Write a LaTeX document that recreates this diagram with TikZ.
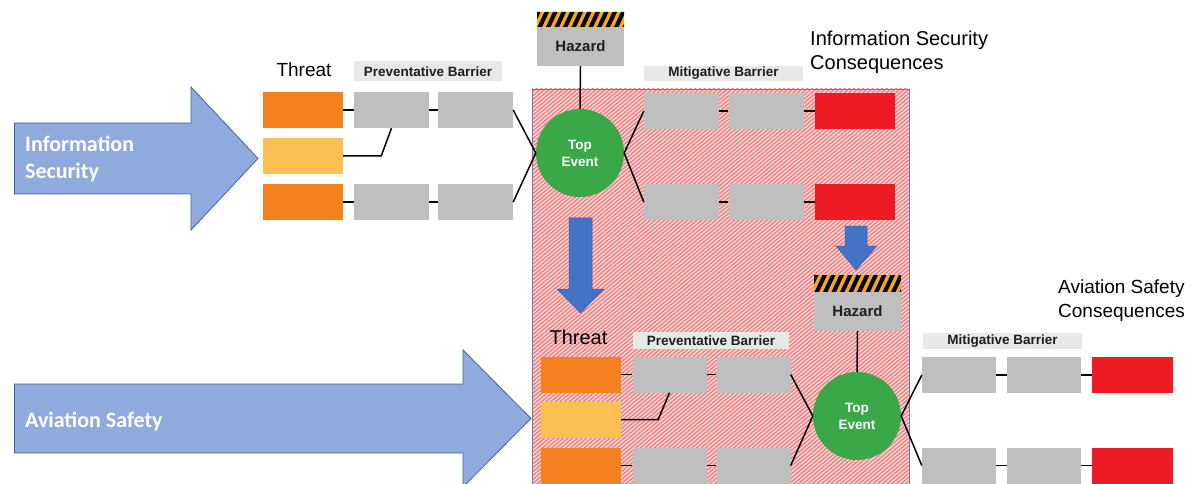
\documentclass[tikz,border=0pt]{standalone}
\usepackage{fontspec}
\setmainfont{Liberation Sans}
\newfontfamily\calfont{Carlito}
\usetikzlibrary{patterns.meta}

\definecolor{orangeC}{RGB}{244,129,32}
\definecolor{yellowC}{RGB}{251,192,84}
\definecolor{grayC}{RGB}{191,191,191}
\definecolor{redC}{RGB}{237,28,36}
\definecolor{greenC}{RGB}{58,168,72}
\definecolor{labelC}{RGB}{232,232,232}
\definecolor{textC}{RGB}{30,30,30}
\definecolor{hzOrange}{RGB}{245,166,35}
\definecolor{arrowFill}{RGB}{143,170,220}
\definecolor{arrowLine}{RGB}{70,100,150}
\definecolor{downBlue}{RGB}{68,114,196}
\definecolor{zoneFill}{RGB}{248,212,212}
\definecolor{zoneHatch}{RGB}{232,128,128}
\definecolor{zoneLine}{RGB}{110,120,180}

\begin{document}
\begin{tikzpicture}[x=1pt,y=-1pt,
  cell/.style={rectangle, inner sep=0pt, minimum height=36pt},
  threat/.style={cell, fill=orangeC, minimum width=80pt},
  minor/.style={cell, fill=yellowC, minimum width=80pt},
  barrier/.style={cell, fill=grayC, minimum width=75pt},
  conseq/.style={cell, fill=redC, minimum width=80pt},
  tag/.style={rectangle, inner sep=0pt, fill=labelC, text=textC,
    font=\bfseries\fontsize{13.5pt}{15pt}\selectfont},
  hazardbox/.style={rectangle, inner sep=0pt, fill=grayC, minimum width=87pt,
    minimum height=39pt, text=textC, font=\bfseries\fontsize{15pt}{17pt}\selectfont},
  topevent/.style={circle, inner sep=0pt, minimum size=88pt, fill=greenC,
    text=white, align=center, font=\bfseries\fontsize{13.5pt}{17pt}\selectfont},
  heading/.style={inner sep=0pt, anchor=west, align=left, text=black},
  link/.style={line width=1.5pt, black},
  bigarrow/.style={fill=arrowFill, draw=arrowLine, line width=0.8pt},
  downarrow/.style={fill=downBlue, draw=downBlue!85!black, line width=0.5pt}]

\useasboundingbox (0,0) rectangle (1195,484);
\clip (0,0) rectangle (1195,484);

% shared zone of the two bow-ties
\fill[zoneFill] (532,89) rectangle (909,500);
\path[pattern={Lines[angle=40,distance=3pt,line width=1.3pt]}, pattern color=zoneHatch]
  (532,89) rectangle (909,500);
\draw[zoneLine, line width=0.8pt] (532,89) rectangle (909,500);

% domain arrows
\draw[bigarrow] (14.5,123) -- (191,123) -- (191,87) -- (258,158.5) -- (191,230)
  -- (191,194) -- (14.5,194) -- cycle;
\draw[bigarrow] (14.5,384) -- (463,384) -- (463,350) -- (531,418.5) -- (463,487)
  -- (463,453) -- (14.5,453) -- cycle;
\node[heading, text=white, font=\calfont\bfseries\fontsize{22pt}{27.5pt}\selectfont]
  (dom1) at (25,159) {Information\\Security};
\node[heading, text=white, font=\calfont\bfseries\fontsize{22pt}{27pt}\selectfont]
  (dom2) at (25,421) {Aviation Safety};

% escalation arrows
\draw[downarrow] (569,218) -- (592,218) -- (592,289) -- (604,289) -- (580.5,313)
  -- (557,289) -- (569,289) -- cycle;
\draw[downarrow] (845,226) -- (867,226) -- (867,246) -- (877,246) -- (856,270)
  -- (836,246) -- (845,246) -- cycle;

% ---------- information security bow-tie ----------
\node[font=\fontsize{19pt}{22pt}\selectfont] (thr1) at (304,70) {Threat};
\node[tag, minimum width=148pt, minimum height=20pt] (pb1) at (428,71.5) {Preventative Barrier};
\node[tag, minimum width=159pt, minimum height=15pt] (mb1) at (723.5,73.5) {Mitigative Barrier};
\node[heading, font=\fontsize{20pt}{24pt}\selectfont] (ic) at (810,52)
  {Information Security\\Consequences};

\node[threat] (t1) at (303,110) {};
\node[minor]  (t2) at (303,156) {};
\node[threat] (t3) at (303,202) {};
\node[barrier] (p11) at (391.5,110) {};
\node[barrier] (p12) at (475.5,110) {};
\node[barrier] (p31) at (391.5,202) {};
\node[barrier] (p32) at (475.5,202) {};

\begin{scope}
  \clip (537,12) rectangle (624,27);
  \fill[hzOrange] (537,12) rectangle (624,27);
  \foreach \k in {0,...,12}
    \fill[black] ({529+\k*8.5},27) -- ++(4.5,0) -- ++(7,-15) -- ++(-4.5,0) -- cycle;
\end{scope}
\node[hazardbox] (hz1) at (580.5,46.5) {Hazard};
\node[topevent] (te1) at (580,153) {Top\\Event};

\node[barrier] (m11) at (681.5,111) {};
\node[barrier] (m12) at (766,111) {};
\node[conseq]  (c11) at (855,111) {};
\node[barrier] (m21) at (681.5,202) {};
\node[barrier] (m22) at (766,202) {};
\node[conseq]  (c21) at (855,202) {};

\draw[link] (t1) -- (p11);
\draw[link] (p11) -- (p12);
\draw[link] (t3) -- (p31);
\draw[link] (p31) -- (p32);
\draw[link] (t2.east) -- ++(38,0) -- (p11.south);
\draw[link] (p12.east) -- (te1.west);
\draw[link] (p32.east) -- (te1.west);
\draw[link] (hz1.south) -- (te1.north);
\draw[link] (te1.east) -- (m11.west);
\draw[link] (te1.east) -- (m21.west);
\draw[link] (m11) -- (m12);
\draw[link] (m12) -- (c11);
\draw[link] (m21) -- (m22);
\draw[link] (m22) -- (c21);

% ---------- aviation safety bow-tie ----------
\node[font=\fontsize{20pt}{22pt}\selectfont] (thr2) at (578.5,337) {Threat};
\node[tag, minimum width=156pt, minimum height=17pt] (pb2) at (711,340.5) {Preventative Barrier};
\node[tag, minimum width=159pt, minimum height=16pt] (mb2) at (1002.5,341) {Mitigative Barrier};
\node[heading, font=\fontsize{19pt}{24pt}\selectfont] (ac) at (1058,301)
  {Aviation Safety\\Consequences};

\node[threat] (t4) at (581,374.5) {};
\node[minor]  (t5) at (581,419.5) {};
\node[threat] (t6) at (581,465.5) {};
\node[barrier, minimum width=74pt] (p41) at (669.5,374.5) {};
\node[barrier, minimum width=74pt] (p42) at (753.5,374.5) {};
\node[barrier, minimum width=74pt] (p61) at (669.5,465.5) {};
\node[barrier, minimum width=74pt] (p62) at (753.5,465.5) {};

\begin{scope}
  \clip (814,275) rectangle (901,292);
  \fill[hzOrange] (814,275) rectangle (901,292);
  \foreach \k in {0,...,12}
    \fill[black] ({806+\k*8.5},292) -- ++(4.5,0) -- ++(8,-17) -- ++(-4.5,0) -- cycle;
\end{scope}
\node[hazardbox] (hz2) at (857.5,311.5) {Hazard};
\node[topevent] (te2) at (857,416) {Top\\Event};

\node[barrier, minimum width=74pt] (m31) at (959,375) {};
\node[barrier, minimum width=74pt] (m32) at (1044,375) {};
\node[conseq, minimum width=81pt]  (c31) at (1132.5,375) {};
\node[barrier, minimum width=74pt] (m41) at (959,465.5) {};
\node[barrier, minimum width=74pt] (m42) at (1044,465.5) {};
\node[conseq, minimum width=81pt]  (c41) at (1132.5,465.5) {};

\draw[link] (t4) -- (p41);
\draw[link] (p41) -- (p42);
\draw[link] (t6) -- (p61);
\draw[link] (p61) -- (p62);
\draw[link] (t5.east) -- ++(37,0) -- (p41.south);
\draw[link] (p42.east) -- (te2.west);
\draw[link] (p62.east) -- (te2.west);
\draw[link] (hz2.south) -- (te2.north);
\draw[link] (te2.east) -- (m31.west);
\draw[link] (te2.east) -- (m41.west);
\draw[link] (m31) -- (m32);
\draw[link] (m32) -- (c31);
\draw[link] (m41) -- (m42);
\draw[link] (m42) -- (c41);
\end{tikzpicture}
\end{document}
